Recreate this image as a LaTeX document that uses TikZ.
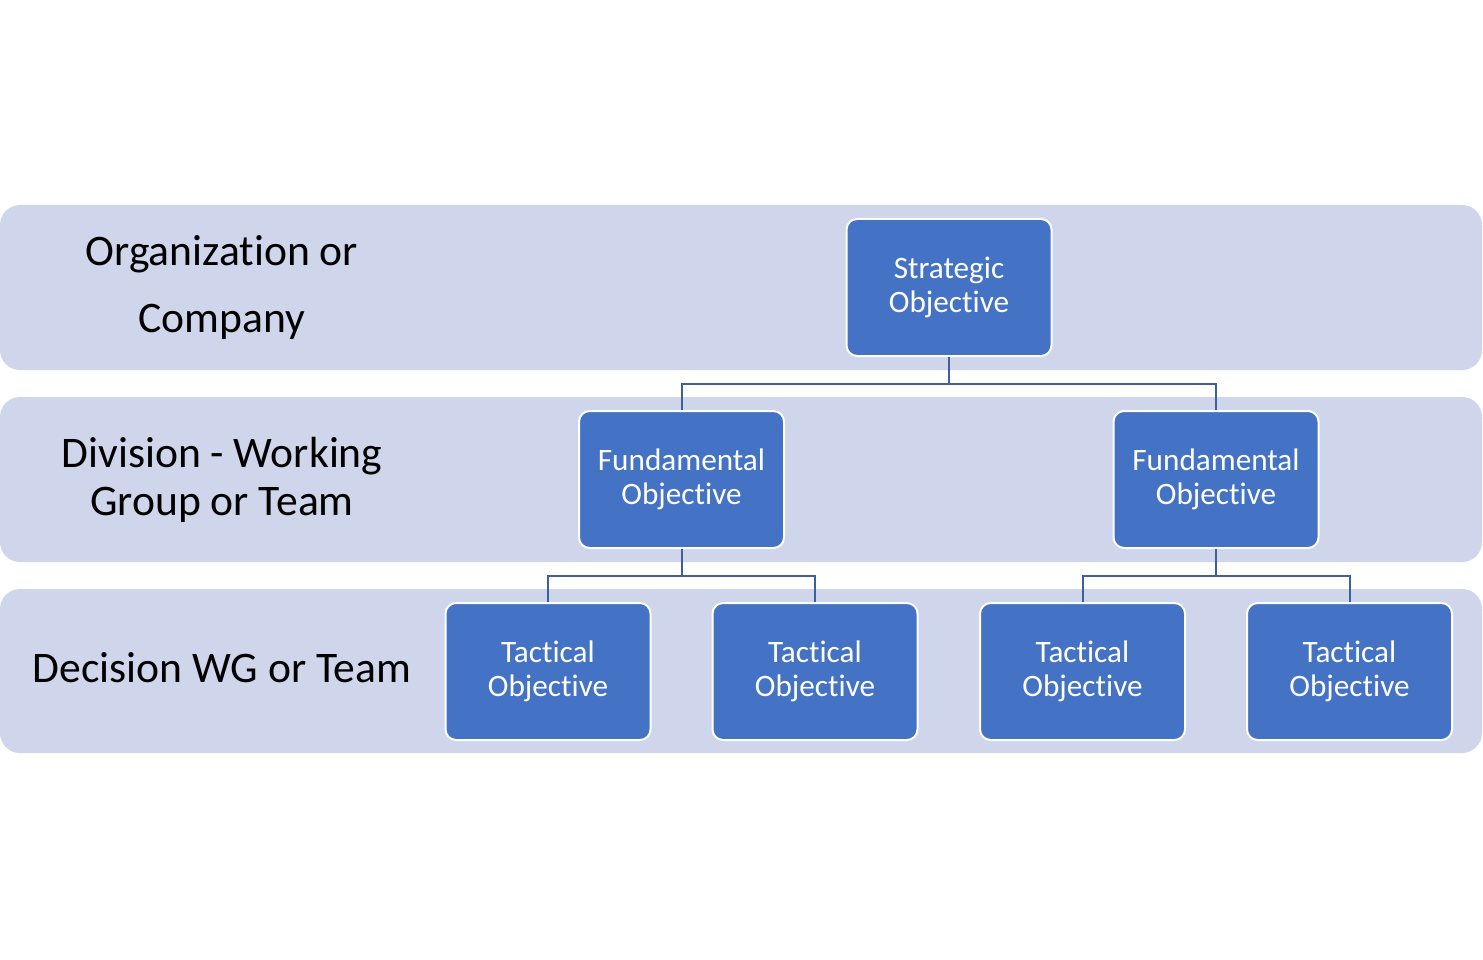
\documentclass[tikz,border=0pt]{standalone}
\usepackage{fontspec}
\setmainfont{Carlito}[Ligatures=NoCommon]
\definecolor{bandfill}{HTML}{CFD5EA}
\definecolor{boxblue}{HTML}{4472C4}
\definecolor{linkblue}{HTML}{3E5F9E}
\begin{document}
\begin{tikzpicture}[x=0.75pt,y=-0.75pt,
  band/.style={fill=bandfill,draw=none,rounded corners=15pt},
  objbox/.style={rectangle,rounded corners=8pt,fill=boxblue,draw=white,line width=1.5pt,
    minimum width=153.75pt,minimum height=102.75pt,text=white,align=center,
    font=\fontsize{23.4pt}{25.5pt}\selectfont,inner sep=0pt},
  lvl/.style={text=black,inner sep=0pt,anchor=base,font=\fontsize{32.7pt}{36pt}\selectfont},
  link/.style={draw=linkblue,line width=1.5pt}]
\useasboundingbox (0,0) rectangle (1483,959);
\fill[white] (0,0) rectangle (1483,959);
% bands
\path[band] (0,205) rectangle (1482,370);
\path[band] (0,397) rectangle (1482,562);
\path[band] (0,589) rectangle (1482,753);
% level labels
\node[lvl] (org1) at (222,265) {Organization or};
\node[lvl] (org2) at (222,332) {Company};
\node[lvl] (div1) at (222,467) {Division - Working};
\node[lvl] (div2) at (222,515) {Group or Team};
\node[lvl] (dec) at (222,682) {Decision WG or Team};
% boxes
\node[objbox] (S) at (949,287.5) {Strategic\\Objective};
\node[objbox] (FL) at (681.5,479.5) {Fundamental\\Objective};
\node[objbox] (FR) at (1216,479.5) {Fundamental\\Objective};
\node[objbox] (T1) at (548,671.5) {Tactical\\Objective};
\node[objbox] (T2) at (815,671.5) {Tactical\\Objective};
\node[objbox] (T3) at (1082.5,671.5) {Tactical\\Objective};
\node[objbox] (T4) at (1349.5,671.5) {Tactical\\Objective};
% connectors
\draw[link] (S.south) -- ++(0,27) -| (FL.north);
\draw[link] (S.south) -- ++(0,27) -| (FR.north);
\draw[link] (FL.south) -- ++(0,27) -| (T1.north);
\draw[link] (FL.south) -- ++(0,27) -| (T2.north);
\draw[link] (FR.south) -- ++(0,27) -| (T3.north);
\draw[link] (FR.south) -- ++(0,27) -| (T4.north);
\end{tikzpicture}
\end{document}
